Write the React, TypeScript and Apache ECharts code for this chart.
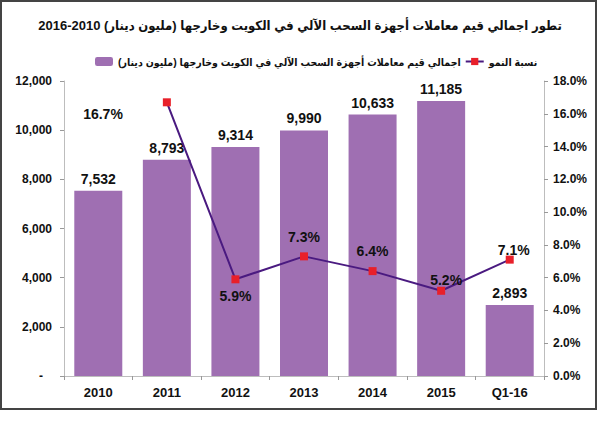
import React, { useEffect, useRef } from "react";
import * as echarts from "echarts";

const categories = ["2010", "2011", "2012", "2013", "2014", "2015", "Q1-16"];
const totals = [7532, 8793, 9314, 9990, 10633, 11185, 2893];
const growth: (number | null)[] = [null, 16.7, 5.9, 7.3, 6.4, 5.2, 7.1];

const titleText =
  "\u202Bتطور اجمالي قيم معاملات أجهزة السحب الآلي في الكويت وخارجها (مليون دينار) 2010-2016\u202C";
const barName =
  "\u202Bاجمالي قيم معاملات أجهزة السحب الآلي في الكويت وخارجها (مليون دينار)\u202C";
const lineName = "نسبة النمو";

const FONT = "'Liberation Sans', Arial, 'DejaVu Sans', sans-serif";
const AR_FONT =
  "'Liberation Sans', Arial, 'DejaVu Sans Condensed', 'DejaVu Sans', sans-serif";

// label placement style for the growth line, per point
const growthLabelStyle: any[] = [
  null,
  { position: "left", distance: 40, offset: [0, 12] },
  { position: "bottom", distance: 6 },
  { position: "top", distance: 8 },
  { position: "top", distance: 9 },
  { position: "top", distance: 0, offset: [5, 0] },
  { position: "top", distance: -1, offset: [4, 0] },
];

export default function App() {
  const ref = useRef<HTMLDivElement>(null);
  useEffect(() => {
    if (!ref.current) return;
    const chart = echarts.init(ref.current, null, { renderer: "svg" });
    const lineData = growth.map((v, i) =>
      v == null
        ? { value: null }
        : { value: v, label: { ...growthLabelStyle[i] } }
    );
    chart.setOption({
      animation: false,
      backgroundColor: "#ffffff",
      textStyle: { fontFamily: FONT },
      title: {
        text: titleText,
        left: "center",
        top: 14,
        textStyle: {
          fontFamily: AR_FONT,
          fontSize: 13,
          fontWeight: "bold",
          color: "#111",
        },
      },
      legend: {
        left: 90,
        top: 51,
        itemWidth: 18,
        itemHeight: 9,
        itemGap: 4,
        data: [barName, lineName],
        textStyle: {
          fontFamily: AR_FONT,
          fontSize: 10.5,
          fontWeight: "bold",
          color: "#111",
        },
      },
      graphic: [
        {
          type: "rect",
          shape: { x: 1, y: 1, width: 595, height: 408 },
          style: { fill: "none", stroke: "#444", lineWidth: 2 },
          silent: true,
        },
      ],
      grid: { left: 64, right: 56, top: 81, bottom: 59 },
      xAxis: {
        type: "category",
        data: categories,
        axisLine: { lineStyle: { color: "#bdbdbd", width: 1 } },
        axisTick: {
          show: true,
          alignWithLabel: false,
          length: 4,
          lineStyle: { color: "#999" },
        },
        axisLabel: {
          margin: 10,
          fontFamily: FONT,
          fontSize: 13,
          fontWeight: "bold",
          color: "#111",
        },
      },
      yAxis: [
        {
          type: "value",
          min: 0,
          max: 12000,
          interval: 2000,
          splitLine: { show: false },
          axisLine: { show: true, lineStyle: { color: "#bdbdbd" } },
          axisTick: { show: true, length: 4, lineStyle: { color: "#999" } },
          axisLabel: {
            margin: 12,
            fontFamily: FONT,
            fontSize: 12,
            fontWeight: "bold",
            color: "#111",
            formatter: (v: number) =>
              v === 0 ? "{d|-}" : v.toLocaleString("en-US"),
            rich: {
              d: {
                fontFamily: FONT,
                fontSize: 12,
                fontWeight: "bold",
                color: "#111",
                padding: [0, 9, 0, 0],
              },
            },
          },
        },
        {
          type: "value",
          min: 0,
          max: 18,
          interval: 2,
          position: "right",
          splitLine: { show: false },
          axisLine: { show: true, lineStyle: { color: "#bdbdbd" } },
          axisTick: { show: true, length: 4, lineStyle: { color: "#999" } },
          axisLabel: {
            margin: 9,
            fontFamily: FONT,
            fontSize: 12,
            fontWeight: "bold",
            color: "#111",
            formatter: (v: number) => v.toFixed(1) + "%",
          },
        },
      ],
      series: [
        {
          name: barName,
          type: "bar",
          data: totals,
          barCategoryGap: "30%",
          itemStyle: { color: "#9f6fb2" },
          label: {
            show: true,
            position: "top",
            distance: 5,
            fontFamily: FONT,
            fontSize: 14,
            fontWeight: "bold",
            color: "#111",
            formatter: (p: any) => Number(p.value).toLocaleString("en-US"),
          },
          z: 1,
        },
        {
          name: lineName,
          type: "line",
          yAxisIndex: 1,
          data: lineData,
          connectNulls: false,
          symbol: "rect",
          symbolSize: 8,
          lineStyle: { color: "#4a1a80", width: 2 },
          itemStyle: { color: "#e8202a" },
          label: {
            show: true,
            fontFamily: FONT,
            fontSize: 14,
            fontWeight: "bold",
            color: "#111",
            formatter: (p: any) => Number(p.value).toFixed(1) + "%",
          },
          z: 3,
        },
      ],
    });
    return () => chart.dispose();
  }, []);
  return (
    <div
      ref={ref}
      style={{ position: "absolute", left: 0, top: 0, width: 600, height: 435 }}
    />
  );
}
